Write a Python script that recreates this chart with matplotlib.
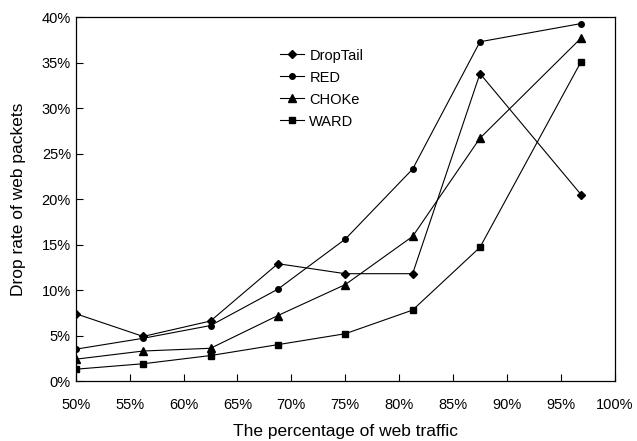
import numpy as np
import matplotlib
matplotlib.use("Agg")
import matplotlib.pyplot as plt
from matplotlib.ticker import FuncFormatter

plt.rcParams['font.family'] = ['Liberation Sans', 'DejaVu Sans']

web_traffic = [50, 56.25, 62.5, 68.75, 75, 81.25, 87.5, 96.875]
droptail = [7.4, 4.9, 6.6, 12.9, 11.8, 11.8, 33.8, 20.5]
red = [3.5, 4.7, 6.1, 10.1, 15.6, 23.3, 37.3, 39.3]
choke = [2.4, 3.3, 3.6, 7.2, 10.6, 15.9, 26.7, 37.7]
ward = [1.3, 1.9, 2.8, 4.0, 5.2, 7.8, 14.7, 35.1]

fig = plt.figure(figsize=(6.37, 4.41), dpi=100)
ax = fig.add_axes([0.119, 0.136, 0.846, 0.825])

ax.plot(web_traffic, droptail, 'k-', marker='D', ms=4.5, lw=0.8, label='DropTail')
ax.plot(web_traffic, red, 'k-', marker='o', ms=4, lw=0.8, label='RED')
ax.plot(web_traffic, choke, 'k-', marker='^', ms=6, lw=0.8, label='CHOKe')
ax.plot(web_traffic, ward, 'k-', marker='s', ms=5, lw=0.8, label='WARD')

ax.set_xlim(50, 100)
ax.set_ylim(0, 40)
ax.set_xticks(np.arange(50, 101, 5))
ax.set_yticks(np.arange(0, 41, 5))
pct = FuncFormatter(lambda v, p: '%d%%' % v)
ax.xaxis.set_major_formatter(pct)
ax.yaxis.set_major_formatter(pct)
ax.tick_params(direction='in', length=5, labelsize=10.5, width=0.8)
ax.tick_params(axis='x', pad=12)
for s in ax.spines.values():
    s.set_linewidth(0.9)

ax.set_xlabel('The percentage of web traffic', fontsize=12.5, labelpad=9)
ax.set_ylabel('Drop rate of web packets', fontsize=12.5, labelpad=11)

ax.legend(loc='upper left', bbox_to_anchor=(0.355, 0.95), frameon=False,
          fontsize=10.5, handlelength=1.6, handletextpad=0.4, labelspacing=0.55)

fig.savefig('out.png', dpi=100)
